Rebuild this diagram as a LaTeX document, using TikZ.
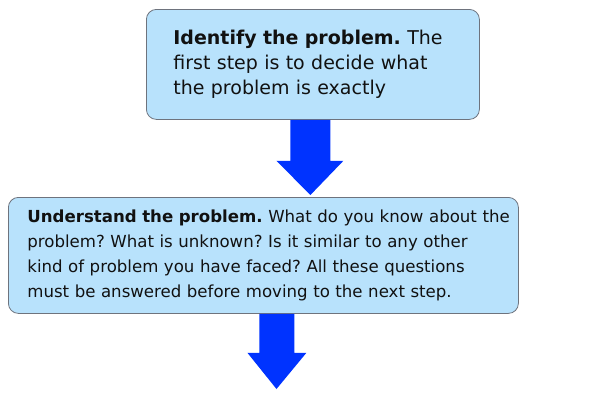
\documentclass[tikz,border=0pt]{standalone}
\usepackage{fontspec}
\setmainfont{DejaVu Sans}
\usetikzlibrary{calc}
\definecolor{boxfill}{RGB}{184,226,252}
\definecolor{boxline}{RGB}{110,115,125}
\definecolor{arrowblue}{RGB}{0,51,255}
\definecolor{txt}{RGB}{17,17,17}
\tikzset{
  stepbox/.style={draw=boxline, line width=0.8pt, fill=boxfill, rounded corners=10pt,
    anchor=north west, align=left, text=txt, inner ysep=0pt},
  bigarrow/.style={fill=arrowblue, draw=none}
}
\begin{document}
\begin{tikzpicture}[x=1pt,y=-1pt]
\useasboundingbox (0,0) rectangle (597,402);
\node[stepbox, minimum width=333pt, minimum height=110pt, inner xsep=27pt, text width=279pt,
  font=\fontsize{19}{25}\selectfont\frenchspacing] (b1) at (146,9)
 {\mbox{\textbf{Identify the problem.} The}\\\mbox{first step is to decide what}\\\mbox{the problem is exactly}};
\node[stepbox, minimum width=510pt, minimum height=116pt, inner xsep=19pt, text width=472pt,
  font=\fontsize{16.6}{25}\selectfont\frenchspacing] (b2) at (8,197)
 {\mbox{\textbf{Understand the problem.} What do you know about the}\\\mbox{problem? What is unknown? Is it similar to any other}\\\mbox{kind of problem you have faced? All these questions}\\\mbox{must be answered before moving to the next step.}};
\coordinate (end) at (276.5,389);
% arrow 1: from b1 to b2
\fill[bigarrow] ($(b1.south)+(-22.5,0)$) -- ($(b1.south)+(17.5,0)$) -- ($(b1.south)+(17.5,41)$)
  -- ($(b1.south)+(30.5,41)$) -- ($(b2.north)+(47,-2)$) -- ($(b1.south)+(-36.5,41)$)
  -- ($(b1.south)+(-22.5,41)$) -- cycle;
% arrow 2: from b2 down
\fill[bigarrow] ($(b2.south)+(-4,0)$) -- ($(b2.south)+(31,0)$) -- ($(b2.south)+(31,39)$)
  -- ($(b2.south)+(43,39)$) -- (end) -- ($(b2.south)+(-16,39)$)
  -- ($(b2.south)+(-4,39)$) -- cycle;
\end{tikzpicture}
\end{document}
